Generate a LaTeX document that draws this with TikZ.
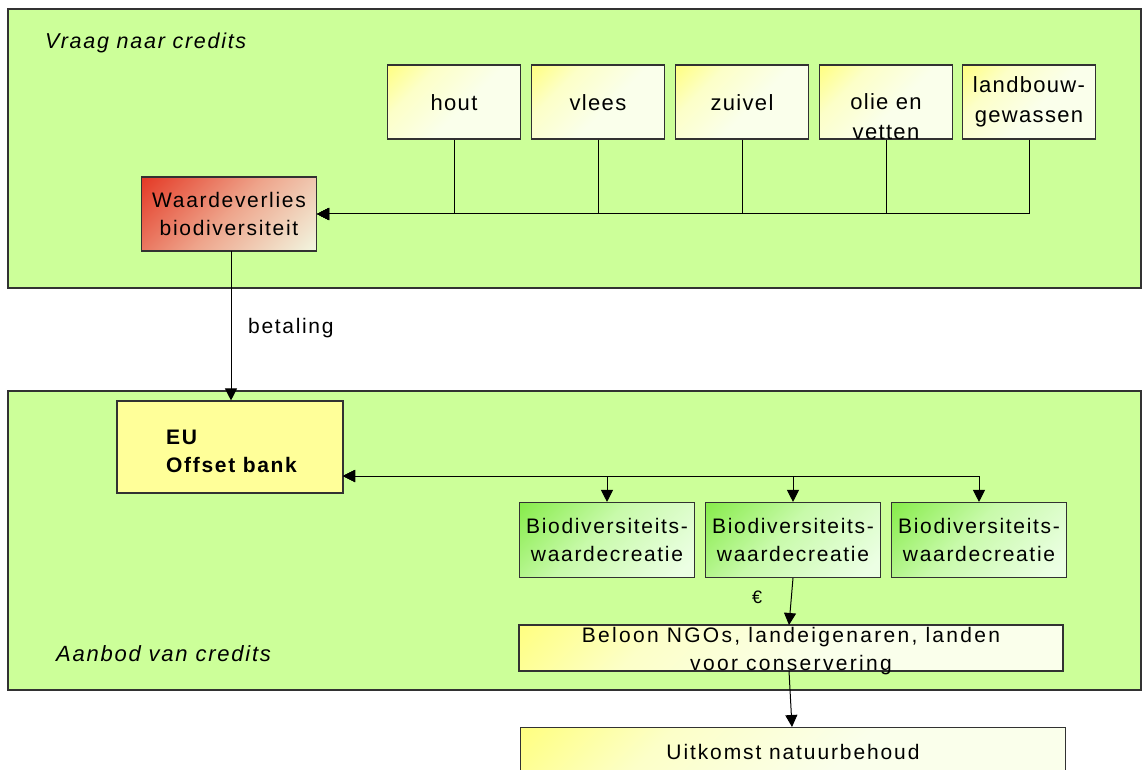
\documentclass[tikz,border=0pt]{standalone}
\usepackage{fontspec}
\setmainfont{Liberation Sans}[LetterSpace=8]
\usetikzlibrary{arrows.meta}
\definecolor{panelgreen}{RGB}{204,255,153}
\definecolor{boxline}{RGB}{50,50,50}
\definecolor{ylw}{RGB}{255,255,130}
\definecolor{ylwmid}{RGB}{252,255,200}
\definecolor{ylwpale}{RGB}{250,255,235}
\definecolor{redtop}{RGB}{228,58,38}
\definecolor{redmid}{RGB}{238,165,140}
\definecolor{cream}{RGB}{242,246,224}
\definecolor{grntop}{RGB}{135,236,75}
\definecolor{grnmid}{RGB}{200,250,170}
\definecolor{grnpale}{RGB}{236,255,228}
\definecolor{eubox}{RGB}{255,255,153}
\pgfdeclareverticalshading{yshade}{100bp}{color(0bp)=(ylwpale); color(45bp)=(ylwpale); color(68bp)=(ylwmid); color(85bp)=(ylw); color(100bp)=(ylw)}
\pgfdeclareverticalshading{rshade}{100bp}{color(0bp)=(cream); color(15bp)=(cream); color(50bp)=(redmid); color(85bp)=(redtop); color(100bp)=(redtop)}
\pgfdeclareverticalshading{gshade}{100bp}{color(0bp)=(grnpale); color(20bp)=(grnpale); color(55bp)=(grnmid); color(85bp)=(grntop); color(100bp)=(grntop)}
\begin{document}
\begin{tikzpicture}[x=1pt,y=-1pt,
  panel/.style={draw=boxline, line width=1.3pt, fill=panelgreen},
  boxbase/.style={draw=boxline, line width=1.1pt, inner sep=0pt, font=\fontsize{21}{28}\selectfont, align=center},
  ybox/.style={boxbase, shading=yshade, shading angle=45},
  rbox/.style={boxbase, shading=rshade, shading angle=45},
  gbox/.style={boxbase, shading=gshade, shading angle=45},
  txt/.style={inner sep=0pt, font=\fontsize{21}{28}\selectfont, align=center},
  toptxt/.style={txt, font=\fontsize{22}{30}\selectfont\addfontfeatures{LetterSpace=6}},
  conn/.style={draw=black, line width=1pt},
  arr/.style={conn, -{Triangle[length=12pt,width=12pt]}},
  darr/.style={conn, {Triangle[length=12pt,width=12pt]}-{Triangle[length=12pt,width=12pt]}}
]
\clip (0,0) rectangle (1143,770);
\fill[white] (0,0) rectangle (1143,770);
\useasboundingbox (0,0) rectangle (1143,770);

% panels
\draw[panel] (8,9) rectangle (1141,288);
\draw[panel] (8,391) rectangle (1141,690);
\node[txt, font=\fontsize{21.5}{26}\selectfont\itshape, anchor=west] (vraag) at (45,43) {Vraag naar credits};
\node[txt, font=\fontsize{22}{26}\selectfont\itshape, anchor=west] (aanbod) at (56,654) {Aanbod van credits};

% top boxes
\node[ybox, minimum width=133pt, minimum height=74pt] (hout) at (454,102) {};
\node[toptxt] (houttxt) at (454,103) {hout};
\node[ybox, minimum width=133pt, minimum height=74pt] (vlees) at (598,102) {};
\node[toptxt] (vleestxt) at (598,103) {vlees};
\node[ybox, minimum width=133pt, minimum height=74pt] (zuivel) at (742,102) {};
\node[toptxt] (zuiveltxt) at (742,103) {zuivel};
\node[ybox, minimum width=133pt, minimum height=74pt] (olie) at (886,102) {};
\node[toptxt] (olietxt) at (886,117) {olie en\\vetten};
\node[ybox, minimum width=133pt, minimum height=74pt] (landbouw) at (1029,102) {};
\node[toptxt] (landbouwtxt) at (1029,102) {landbouw-\\gewassen};

\node[rbox, minimum width=175pt, minimum height=74pt] (wv) at (229,214) {Waardeverlies\\biodiversiteit};

\draw[arr] (hout.south) |- (wv.east);
\draw[arr] (vlees.south) |- (wv.east);
\draw[arr] (zuivel.south) |- (wv.east);
\draw[arr] (olie.south) |- (wv.east);
\draw[arr] (landbouw.south) |- (wv.east);

% EU offset bank
\node[boxbase, fill=eubox, minimum width=226pt, minimum height=92pt] (eu) at (230,447) {};
\node[txt, font=\fontsize{21}{28}\selectfont\bfseries, align=left, anchor=west] (eutxt) at (166,451) {EU\\Offset bank};
\coordinate (euin) at (343,476);
\coordinate (wvout) at (231,251);

\draw[arr] (wvout) -- (wvout |- eu.north);
\node[txt, font=\fontsize{21}{26}\selectfont, anchor=west] (betaling) at (248,328) {betaling};

% biodiversity boxes
\node[gbox, minimum width=175pt, minimum height=75pt] (b1) at (607,540) {Biodiversiteits-\\waardecreatie};
\node[gbox, minimum width=175pt, minimum height=75pt] (b2) at (793,540) {Biodiversiteits-\\waardecreatie};
\node[gbox, minimum width=175pt, minimum height=75pt] (b3) at (979,540) {Biodiversiteits-\\waardecreatie};

\draw[darr] (euin) -| (b1.north);
\draw[darr] (euin) -| (b2.north);
\draw[darr] (euin) -| (b3.north);

% reward box
\node[ybox, minimum width=544pt, minimum height=46pt] (beloon) at (791,648) {};
\node[txt, font=\fontsize{21}{28}\selectfont\addfontfeatures{LetterSpace=11}] (beloontxt) at (791,651) {Beloon NGOs, landeigenaren, landen\\voor conservering};
\coordinate (belin) at (789,625);
\coordinate (belout) at (789,671);
\coordinate (uitin) at (792,727);
\draw[arr] (b2.south) -- (belin);
\node[txt, font=\fontsize{18}{22}\selectfont] (euro) at (757,597) {€};

\node[ybox, minimum width=545pt, minimum height=80pt, anchor=north] (uit) at (793,727) {};
\node[txt, font=\fontsize{21}{28}\selectfont\addfontfeatures{LetterSpace=9}] (uittxt) at (793,752) {Uitkomst natuurbehoud};
\draw[arr] (belout) -- (uitin);
\end{tikzpicture}
\end{document}
